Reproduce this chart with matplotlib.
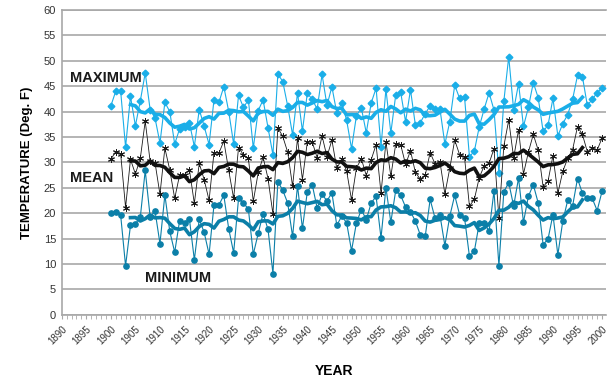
import matplotlib
matplotlib.use("Agg")
import matplotlib.pyplot as plt
import pandas as pd
from matplotlib.ticker import MultipleLocator

years = list(range(1900, 2001))

t_max = [41.1, 44.0, 44.0, 33.0, 43.0, 37.2, 42.1, 47.6, 40.4, 38.7,
         33.8, 41.8, 40.0, 33.6, 36.6, 36.9, 37.8, 33.1, 40.4, 37.1,
         33.5, 42.3, 41.8, 44.9, 40.0, 33.6, 43.2, 40.8, 42.3, 32.8,
         40.2, 42.3, 36.8, 31.5, 47.4, 45.9, 41.1, 35.4, 43.7, 36.2,
         43.6, 42.4, 40.5, 47.3, 41.2, 44.9, 39.7, 41.7, 38.3, 32.7,
         39.2, 40.7, 35.8, 41.7, 44.6, 33.1, 44.4, 35.8, 43.3, 43.8,
         38.0, 44.3, 37.3, 37.8, 39.6, 41.1, 40.5, 40.5, 33.6, 38.0,
         45.2, 42.6, 42.9, 31.1, 32.2, 37.0, 40.5, 43.7, 40.3, 27.9,
         42.0, 50.8, 40.3, 45.5, 37.1, 40.8, 45.7, 42.7, 36.1, 37.3,
         42.6, 35.2, 37.6, 39.4, 42.4, 47.1, 46.9, 41.2, 42.4, 43.7,
         44.7]

t_mean = [30.6, 32.1, 31.7, 21.1, 30.6, 27.7, 30.8, 38.1, 30.2, 29.9,
          23.7, 32.8, 28.5, 22.9, 27.5, 27.6, 28.5, 21.9, 29.8, 26.6,
          22.5, 31.9, 31.8, 34.2, 28.4, 22.9, 32.9, 31.5, 30.8, 22.3,
          28.0, 31.0, 26.8, 19.8, 36.8, 35.1, 32.0, 25.3, 34.7, 26.6,
          34.0, 34.0, 30.9, 35.2, 31.1, 34.4, 28.8, 30.6, 28.3, 22.6,
          28.9, 30.7, 27.4, 30.5, 33.5, 23.9, 34.0, 27.3, 33.6, 33.5,
          29.6, 32.3, 28.0, 26.7, 27.5, 31.9, 29.7, 30.1, 23.8, 28.8,
          34.4, 31.5, 31.0, 21.4, 22.7, 27.0, 29.3, 29.8, 32.7, 19.0,
          33.2, 38.3, 30.9, 36.4, 27.7, 32.0, 35.5, 32.4, 25.2, 26.3,
          31.3, 23.9, 28.2, 30.8, 32.5, 37.0, 35.5, 32.1, 32.8, 32.4,
          34.8]

t_min = [20.1, 20.3, 19.6, 9.6, 17.6, 17.9, 19.2, 28.4, 19.3, 20.4,
         14.0, 23.6, 16.4, 12.3, 18.5, 18.1, 18.8, 10.8, 18.8, 16.2,
         11.9, 21.6, 21.6, 23.5, 16.9, 12.2, 22.9, 22.0, 20.8, 11.9,
         16.0, 19.9, 16.8, 8.1, 26.2, 24.5, 22.0, 15.4, 25.4, 17.0,
         24.2, 25.6, 21.0, 23.7, 22.4, 24.0, 17.6, 19.4, 18.1, 12.6,
         18.1, 20.7, 18.7, 22.0, 23.3, 15.1, 25.0, 18.2, 24.5, 23.5,
         21.2, 20.3, 18.4, 15.7, 15.4, 22.7, 19.0, 19.6, 13.6, 19.4,
         23.5, 19.7, 19.1, 11.5, 12.5, 18.0, 18.1, 16.4, 24.4, 9.6,
         24.2, 26.0, 21.4, 26.9, 18.2, 23.3, 25.6, 22.0, 13.8, 14.9,
         19.7, 11.8, 18.4, 22.5, 21.4, 26.8, 23.9, 22.9, 22.9, 20.5,
         24.3]

df = pd.DataFrame({"year": years, "max": t_max, "mean": t_mean, "min": t_min})
# 9-year centred moving average, as in the original chart
smooth = df[["max", "mean", "min"]].rolling(9, center=True).mean()

c_max = "#1aaee8"
c_mean = "#1a1a1a"
c_min = "#0b7fa8"

plt.rcParams["font.family"] = ["Liberation Sans", "DejaVu Sans"]

fig = plt.figure(figsize=(6.08, 3.84), dpi=100)
ax = fig.add_axes([0.1015, 0.1805, 0.8952, 0.7935])

ax.plot(df["year"], df["max"], color=c_max, lw=0.8, marker="D", ms=3.4, zorder=3)
ax.plot(df["year"], df["mean"], color=c_mean, lw=0.6, marker=(6, 2, 0), ms=5,
        mew=0.7, zorder=3)
ax.plot(df["year"], df["min"], color=c_min, lw=0.8, marker="o", ms=3.8, zorder=3)

ax.plot(df["year"], smooth["max"], color=c_max, lw=2.6, zorder=4)
ax.plot(df["year"], smooth["mean"], color="#111111", lw=2.6, zorder=4)
ax.plot(df["year"], smooth["min"], color=c_min, lw=2.6, zorder=4)

ax.text(1891.7, 46.6, "MAXIMUM", fontsize=10.5, fontweight="bold", va="center", color="#1a1a1a")
ax.text(1891.7, 26.9, "MEAN", fontsize=10.5, fontweight="bold", va="center", color="#1a1a1a")
ax.text(1906.9, 7.2, "MINIMUM", fontsize=10.5, fontweight="bold", va="center", color="#1a1a1a")

ax.set_xlim(1890, 2000.8)
ax.set_ylim(0, 60)
ax.yaxis.set_major_locator(MultipleLocator(5))
ax.xaxis.set_major_locator(MultipleLocator(5))
ax.xaxis.set_minor_locator(MultipleLocator(1))
ax.grid(axis="y", color="#a8a8a8", lw=1.2)
ax.set_axisbelow(True)

for side in ["left", "bottom", "top"]:
    ax.spines[side].set_color("#a8a8a8")
    ax.spines[side].set_linewidth(1.2)
ax.spines["right"].set_visible(False)

ax.tick_params(axis="y", length=0, labelsize=8, labelcolor="#333333", pad=4)
ax.tick_params(axis="x", which="both", length=3, color="#a8a8a8", labelsize=7,
               labelcolor="#333333", pad=4)
plt.setp(ax.get_xticklabels(), rotation=45, ha="right", rotation_mode="anchor")

ax.set_ylabel("TEMPERATURE (Deg. F)", fontsize=9.5, fontweight="bold", labelpad=8)
ax.set_xlabel("YEAR", fontsize=10, fontweight="bold", labelpad=12)

fig.savefig("out.png", dpi=100)
